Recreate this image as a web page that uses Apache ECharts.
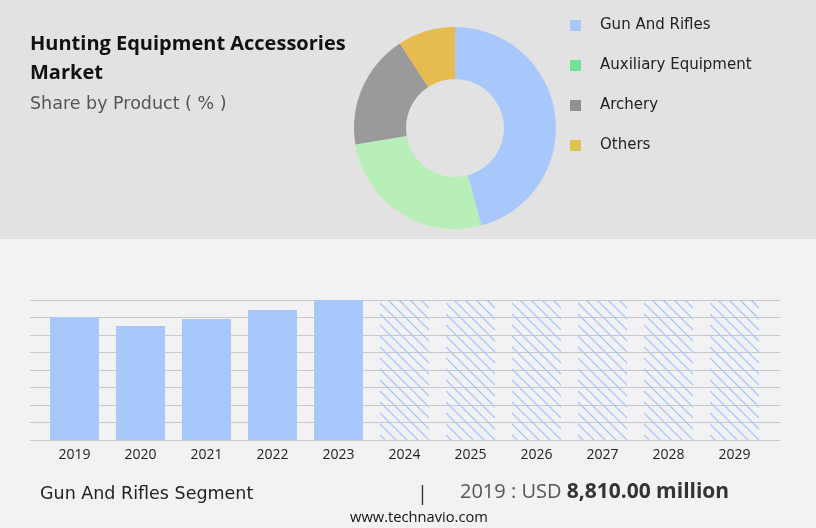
<!DOCTYPE html>
<html>
<head>
<meta charset="utf-8">
<script src="https://cdn.jsdelivr.net/npm/echarts@6/dist/echarts.min.js"></script>
<style>
html,body{margin:0;padding:0;background:#f2f2f4;}
#c{width:816px;height:528px;}
</style>
</head>
<body>
<div id="c"></div>
<script>
// ---- data ----
const shareNames = ['Gun And Rifles', 'Auxiliary Equipment', 'Archery', 'Others'];
const shareValues = [45.8, 26.6, 18.4, 9.2];
const sliceColors = ['#a8c8fc', '#b8eeb8', '#9a9a9a', '#e6bb50'];
const legendColors = ['#a8c8fc', '#6ee395', '#909090', '#dcc24f'];

const years = ['2019','2020','2021','2022','2023','2024','2025','2026','2027','2028','2029'];
const historic = [8810, 8165, 8666, 9310, 10030, null, null, null, null, null, null];
const forecast = [null, null, null, null, null, 10030, 10030, 10030, 10030, 10030, 10030];
const yMax = 10030;
const gridSteps = 8;

const segmentName = 'Gun And Rifles Segment';
const baseYear = '2019';
const baseValue = '8,810.00 million';

// ---- hatch pattern ----
const pc = document.createElement('canvas');
pc.width = 11; pc.height = 11;
const px = pc.getContext('2d');
px.strokeStyle = '#a8c8fc';
px.lineWidth = 1.3;
px.beginPath();
px.moveTo(-1, -1); px.lineTo(12, 12);
px.moveTo(-1, 10); px.lineTo(1, 12);
px.moveTo(10, -1); px.lineTo(12, 1);
px.stroke();

const chart = echarts.init(document.getElementById('c'));
chart.setOption({
  backgroundColor: '#f2f2f4',
  animation: false,
  graphic: [
    { type: 'rect', shape: { x: 0, y: 0, width: 816, height: 239 }, style: { fill: '#e2e2e2' }, z: -10 }
  ],
  title: [
    { text: 'Hunting Equipment Accessories\nMarket', left: 30, top: 30, padding: 0,
      textStyle: { fontFamily: 'Open Sans', fontWeight: 'bold', fontSize: 20, color: '#111', lineHeight: 29 } },
    { text: 'Share by Product ( % )', left: 30, top: 95, padding: 0,
      textStyle: { fontFamily: 'DejaVu Sans', fontWeight: 'normal', fontSize: 17.5, color: '#555' } },
    { text: '{a|' + segmentName + '}', left: 40, top: 485, padding: 0,
      textStyle: { fontWeight: 'normal', rich: { a: { fontFamily: 'DejaVu Sans', fontWeight: 'normal', fontSize: 17.5, color: '#222' } } } },
    { text: '{s||}', left: 417, top: 484, padding: 0,
      textStyle: { fontWeight: 'normal', rich: { s: { fontFamily: 'Open Sans', fontWeight: 'normal', fontSize: 20, color: '#333' } } } },
    { text: '{n|' + baseYear + ' : USD }{b|' + baseValue + '}', left: 460, top: 482, padding: 0,
      textStyle: { fontWeight: 'normal', rich: {
        n: { fontFamily: 'Open Sans', fontWeight: 'normal', fontSize: 20, color: '#555' },
        b: { fontFamily: 'Open Sans', fontSize: 21, fontWeight: 'bold', color: '#333' } } } },
    { text: 'www.technavio.com', left: 350, top: 510, padding: 0,
      textStyle: { fontFamily: 'Open Sans', fontWeight: 'normal', fontSize: 14.7, color: '#111' } }
  ],
  legend: {
    orient: 'vertical', left: 565, top: 13, itemWidth: 11, itemHeight: 11, itemGap: 25,
    textStyle: { fontFamily: 'DejaVu Sans', fontSize: 15, color: '#222', padding: [0, 0, 0, 14] },
    data: shareNames.map((n, i) => ({ name: n, icon: 'rect', itemStyle: { color: legendColors[i] } })),
    selectedMode: false
  },
  grid: [
    { left: 30, right: 36, top: 300, height: 140 },
    { left: 41.5, right: 48.5, top: 300, height: 140 }
  ],
  xAxis: [
    { type: 'category', gridIndex: 0, data: years, show: false },
    { type: 'category', gridIndex: 1, data: years,
      axisLine: { show: false }, axisTick: { show: false },
      axisLabel: { fontFamily: 'Open Sans', fontSize: 14, color: '#222', margin: 8 } }
  ],
  yAxis: [
    { type: 'value', gridIndex: 0, min: 0, max: yMax, interval: yMax / gridSteps,
      axisLabel: { show: false }, axisLine: { show: false }, axisTick: { show: false },
      splitLine: { lineStyle: { color: '#c8c8c8', width: 1 } } },
    { type: 'value', gridIndex: 1, min: 0, max: yMax, show: false, splitLine: { show: false } }
  ],
  series: [
    { type: 'pie', center: [455, 128], radius: [49, 101], startAngle: 90, clockwise: true,
      label: { show: false }, labelLine: { show: false }, silent: true,
      data: shareNames.map((n, i) => ({ name: n, value: shareValues[i], itemStyle: { color: sliceColors[i] } })) },
    { type: 'bar', xAxisIndex: 1, yAxisIndex: 1, data: historic, barWidth: 49, barGap: '-100%',
      itemStyle: { color: '#a8c8fc' }, silent: true },
    { type: 'bar', xAxisIndex: 1, yAxisIndex: 1, data: forecast, barWidth: 49, barGap: '-100%',
      itemStyle: { color: { image: pc, repeat: 'repeat' } }, silent: true }
  ]
});
</script>
</body>
</html>
